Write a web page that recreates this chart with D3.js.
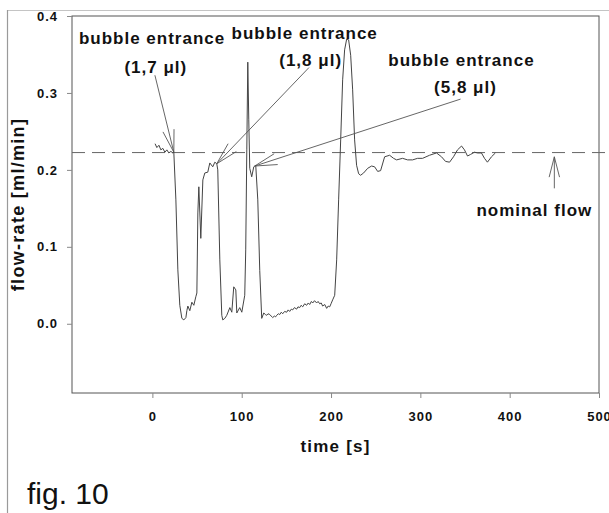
<!DOCTYPE html>
<html>
<head>
<meta charset="utf-8">
<script src="https://cdn.jsdelivr.net/npm/d3@7"></script>
<style>
body { margin: 0; background: #fff; }
svg { display: block; font-family: "Liberation Sans", Arial, sans-serif; }
</style>
</head>
<body>
<div id="chart"></div>
<script>
// flow-rate trace
var timeS = [3,5,7.3,9.5,11.7,14,16.2,18.4,20.7,22.9,
  24,26.3,28.5,30.7,33,35.2,37.5,38.6,39.7,41.9,
  44.2,46.4,48.6,49.8,50.9,52,54.2,56.5,58.7,62,
  64.3,67.6,69.9,72.1,73.2,75.5,77.7,78.8,81.1,83.3,
  86.7,88.9,91.1,93.4,94.5,97.8,100.1,103.4,104.5,105.7,
  106.8,107.9,109,111.2,113.5,115.7,118,120.2,122.4,
  124.7,126.5,128,129.5,131.4,133,134.7,136.5,138,139.2,
  141,142.6,144.3,145.9,148,150.4,152,153.7,155.5,157.1,
  159,161.5,163,164.9,166.5,168.3,170.5,172.7,174.5,176.1,
  178,179.5,181.5,183.9,185.5,187.3,189,190.6,193,195.1,
  196.8,198.5,200,201.8,
  204.1,206.3,208.5,210.8,213,215.2,217.5,219.7,222,
  224.2,226.4,228.6,230.9,233.1,236.5,241,245.4,248.8,252.2,
  255.5,260,265.6,270,273.4,280.1,285.7,291.3,296.9,302.5,
  310.3,318.1,323.7,328.2,332.7,337.1,341.6,346.1,349.4,352.8,
  356.1,360.6,364,368.4,371.8,375.1,379.6,384];
var flowRate = [.234,.229,.232,.226,.228,.223,.226,.222,.224,.222,
  .223,.161,.070,.024,.007,.005,.008,.017,.023,.017,
  .028,.024,.035,.040,.144,.178,.111,.187,.196,.197,
  .209,.204,.210,.208,.200,.083,.011,.005,.007,.011,
  .021,.015,.048,.044,.014,.021,.015,.037,.096,.226,
  .340,.265,.202,.191,.204,.206,.161,.069,.007,
  .014,.012,.011,.013,.012,.010,.008,.010,.009,.011,
  .013,.012,.015,.013,.016,.015,.018,.016,.019,.018,
  .021,.019,.022,.021,.024,.022,.026,.024,.027,.025,
  .029,.027,.030,.027,.029,.026,.027,.023,.025,.020,
  .023,.022,.026,.031,
  .037,.083,.161,.239,.317,.356,.370,.369,.349,
  .304,.239,.206,.195,.193,.196,.202,.205,.204,.198,
  .199,.217,.219,.215,.213,.215,.213,.213,.215,.215,
  .219,.222,.217,.211,.210,.217,.226,.231,.226,.218,
  .220,.223,.222,.222,.215,.210,.217,.222];
var xTicks = [0, 100, 200, 300, 400, 500];
var yTicks = [0, 0.1, 0.2, 0.3, 0.4];
var nominalFlow = 0.2225;

// annotations, in data units
var noteLabels = ["bubble entrance", "bubble entrance", "bubble entrance"];
var noteVolumes = ["(1,7 \u03bcl)", "(1,8 \u03bcl)", "(5,8 \u03bcl)"];
var noteLabelAt = [[-0.4, 0.371], [170.5, 0.378], [346, 0.343]];
var noteVolumeAt = [[3.9, 0.334], [177.2, 0.343], [350.5, 0.308]];
var noteArrowFrom = [[2.8, 0.323], [175.3, 0.333], [345, 0.292]];
var noteArrowTo = [[24, 0.223], [72.1, 0.208], [114.6, 0.205]];
var nominalArrowFrom = [450, 0.176];
var nominalArrowTo = [450, 0.217];
var nominalLabelAt = [427.6, 0.1477];

var w = 609, h = 513;
var svg = d3.select("#chart").append("svg").attr("width", w).attr("height", h);

var x = d3.scaleLinear().domain([-90, 500]).range([72, 599]);
var y = d3.scaleLinear().domain([-0.09, 0.4]).range([393, 16]);

// outer frame of the scan
svg.append("line").attr("x1", 7).attr("x2", w).attr("y1", 10.5).attr("y2", 10.5)
  .attr("stroke", "#c4c4c4").attr("stroke-width", 1.2);
svg.append("line").attr("x1", 7.5).attr("x2", 7.5).attr("y1", 10).attr("y2", h)
  .attr("stroke", "#9a9a9a").attr("stroke-width", 1.2);

// plot box
svg.append("rect").attr("x", x(-90)).attr("y", y(0.4))
  .attr("width", x(500) - x(-90)).attr("height", y(-0.09) - y(0.4))
  .attr("fill", "none").attr("stroke", "#555").attr("stroke-width", 1);

var yAxis = svg.append("g").attr("transform", "translate(" + x(-90) + ",0)")
  .call(d3.axisLeft(y).tickValues(yTicks).tickFormat(d3.format(".1f"))
    .tickSize(5).tickSizeOuter(0).tickPadding(9));
yAxis.select(".domain").remove();
yAxis.selectAll("line").attr("stroke", "#888");
yAxis.selectAll("text").attr("font-size", 13).attr("font-weight", "bold")
  .attr("letter-spacing", 1).attr("fill", "#111")
  .attr("font-family", "Liberation Sans, Arial, sans-serif");

var xAxis = svg.append("g").attr("transform", "translate(0," + y(-0.09) + ")")
  .call(d3.axisBottom(x).tickValues(xTicks).tickFormat(d3.format("d"))
    .tickSize(5).tickSizeOuter(0).tickPadding(14));
xAxis.select(".domain").remove();
xAxis.selectAll("line").attr("stroke", "#888");
xAxis.selectAll("text").attr("font-size", 13).attr("font-weight", "bold")
  .attr("letter-spacing", 1).attr("fill", "#111")
  .attr("font-family", "Liberation Sans, Arial, sans-serif");

// axis titles
svg.append("text").attr("x", (x(-90) + x(500)) / 2).attr("y", 452)
  .attr("text-anchor", "middle").attr("font-size", 17).attr("font-weight", "bold")
  .attr("letter-spacing", 1.2).attr("fill", "#111").text("time [s]");
svg.append("text")
  .attr("transform", "translate(24," + (y(0.4) + y(-0.09)) / 2 + ") rotate(-90)")
  .attr("text-anchor", "middle").attr("font-size", 18).attr("font-weight", "bold")
  .attr("letter-spacing", 1.3).attr("fill", "#111").text("flow-rate [ml/min]");

// nominal flow dashed line
svg.append("line").attr("x1", x(-90)).attr("x2", w)
  .attr("y1", y(nominalFlow)).attr("y2", y(nominalFlow))
  .attr("stroke", "#666").attr("stroke-width", 1).attr("stroke-dasharray", "13,7");

// the trace
var line = d3.line().x(function(d) { return x(d[0]); }).y(function(d) { return y(d[1]); });
svg.append("path").datum(d3.zip(timeS, flowRate))
  .attr("d", line).attr("fill", "none").attr("stroke", "#444").attr("stroke-width", 1);

// open arrows
function arrow(from, to, len) {
  var x1 = x(from[0]), y1 = y(from[1]), x2 = x(to[0]), y2 = y(to[1]);
  var a = Math.atan2(y1 - y2, x1 - x2), s = 0.25;
  var g = svg.append("g").attr("stroke", "#555").attr("stroke-width", 0.9).attr("fill", "none");
  g.append("line").attr("x1", x1).attr("y1", y1).attr("x2", x2).attr("y2", y2);
  [-s, s].forEach(function(o) {
    g.append("line").attr("x1", x2).attr("y1", y2)
      .attr("x2", x2 + len * Math.cos(a + o)).attr("y2", y2 + len * Math.sin(a + o));
  });
}

noteLabels.forEach(function(t, i) {
  arrow(noteArrowFrom[i], noteArrowTo[i], 23);
  svg.append("text").attr("x", x(noteLabelAt[i][0])).attr("y", y(noteLabelAt[i][1]))
    .attr("dy", "0.35em").attr("text-anchor", "middle").attr("font-size", 17)
    .attr("font-weight", "bold").attr("letter-spacing", 1).attr("fill", "#111").text(t);
  svg.append("text").attr("x", x(noteVolumeAt[i][0])).attr("y", y(noteVolumeAt[i][1]))
    .attr("dy", "0.35em").attr("text-anchor", "middle").attr("font-size", 17)
    .attr("font-weight", "bold").attr("letter-spacing", 1).attr("fill", "#111").text(noteVolumes[i]);
});

arrow(nominalArrowFrom, nominalArrowTo, 21);
svg.append("text").attr("x", x(nominalLabelAt[0])).attr("y", y(nominalLabelAt[1]))
  .attr("dy", "0.35em").attr("text-anchor", "middle").attr("font-size", 17)
  .attr("font-weight", "bold").attr("letter-spacing", 1).attr("fill", "#111").text("nominal flow");

svg.append("text").attr("x", 27).attr("y", 504).attr("font-size", 30)
  .attr("fill", "#111").text("fig. 10");
</script>
</body>
</html>
